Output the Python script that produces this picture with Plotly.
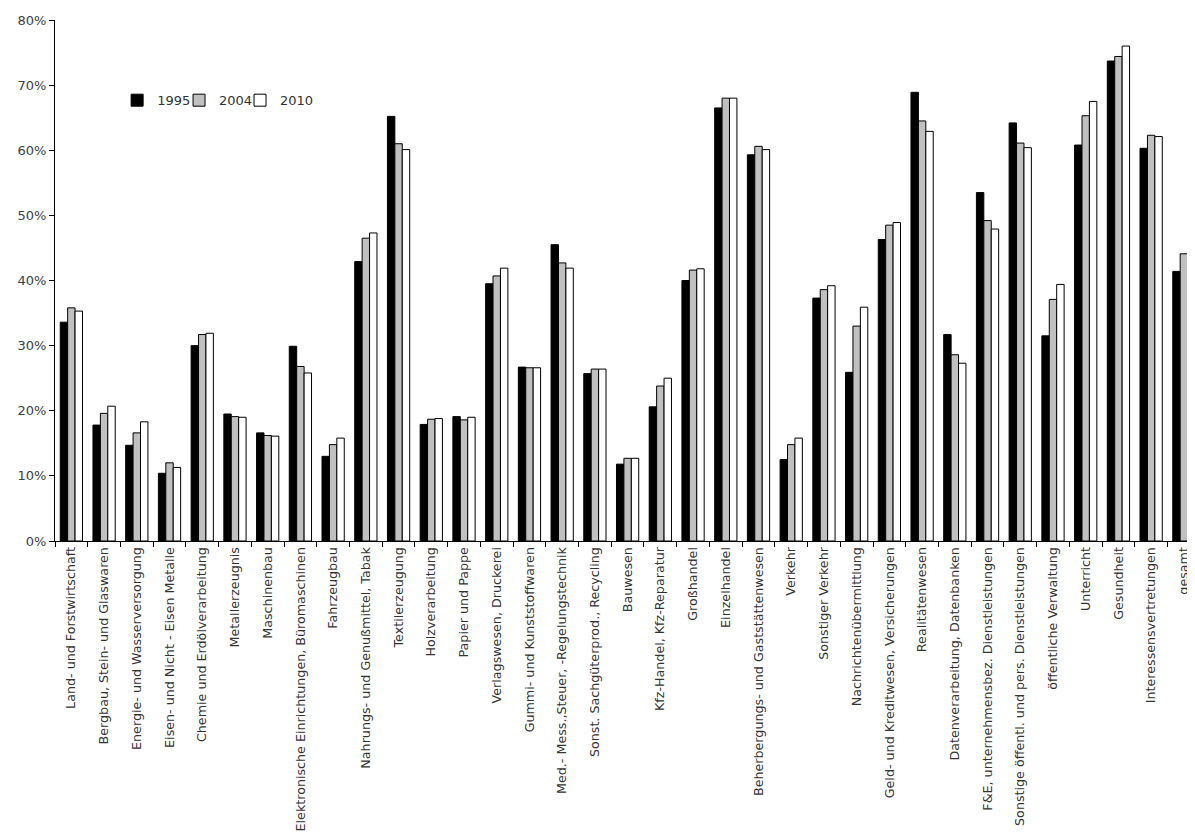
import plotly.graph_objects as go

categories = [
    "Land- und Forstwirtschaft", "Bergbau, Stein- und Glaswaren", "Energie- und Wasserversorgung",
    "Eisen- und Nicht - Eisen Metalle", "Chemie und Erdölverarbeitung", "Metallerzeugnis",
    "Maschinenbau", "Elektronische Einrichtungen, Büromaschinen", "Fahrzeugbau",
    "Nahrungs- und Genußmittel, Tabak", "Textilerzeugung", "Holzverarbeitung", "Papier und Pappe",
    "Verlagswesen, Druckerei", "Gummi- und Kunststoffwaren", "Med.- Mess.,Steuer, -Regelungstechnik",
    "Sonst. Sachgüterprod., Recycling", "Bauwesen", "Kfz-Handel, Kfz-Reparatur", "Großhandel",
    "Einzelhandel", "Beherbergungs- und Gaststättenwesen", "Verkehr", "Sonstiger Verkehr",
    "Nachrichtenübermittlung", "Geld- und Kreditwesen, Versicherungen", "Realitätenwesen",
    "Datenverarbeitung, Datenbanken", "F&E, unternehmensbez. Dienstleistungen",
    "Sonstige öffentl. und pers. Dienstleistungen", "öffentliche Verwaltung", "Unterricht",
    "Gesundheit", "Interessensvertretungen", "gesamt",
]

v1995 = [33.6, 17.8, 14.7, 10.4, 30.0, 19.5, 16.6, 29.9, 13.0, 42.9, 65.2, 17.9, 19.1, 39.5,
         26.7, 45.5, 25.7, 11.8, 20.6, 40.0, 66.5, 59.3, 12.5, 37.3, 25.9, 46.3, 68.9, 31.7,
         53.5, 64.2, 31.5, 60.8, 73.7, 60.3, 41.4]
v2004 = [35.8, 19.6, 16.6, 12.0, 31.7, 19.1, 16.2, 26.8, 14.8, 46.5, 61.0, 18.7, 18.6, 40.7,
         26.6, 42.7, 26.4, 12.7, 23.8, 41.6, 68.0, 60.6, 14.8, 38.6, 33.0, 48.5, 64.5, 28.6,
         49.2, 61.1, 37.1, 65.3, 74.4, 62.3, 44.1]
v2010 = [35.3, 20.7, 18.3, 11.3, 31.9, 19.0, 16.1, 25.8, 15.8, 47.3, 60.1, 18.8, 19.0, 41.9,
         26.6, 41.9, 26.4, 12.7, 25.0, 41.8, 68.0, 60.1, 15.8, 39.2, 35.9, 48.9, 62.9, 27.3,
         47.9, 60.4, 39.4, 67.5, 76.0, 62.1, 45.4]

series = [("1995", v1995, "#000000"), ("2004", v2004, "#C0C0C0"), ("2010", v2010, "#FFFFFF")]
legend_ids = ["legend", "legend2", "legend3"]
legend_x = [0.0545, 0.1088, 0.1623]

fig = go.Figure()
for (name, vals, col), lid in zip(series, legend_ids):
    fig.add_trace(go.Bar(
        x=categories, y=[v / 100 for v in vals], name=name, legend=lid,
        marker=dict(color=col, line=dict(color="#000000", width=1)),
    ))

font_family = "DejaVu Sans"
legend_common = dict(orientation="h", y=0.846, xanchor="left", yanchor="middle",
                     font=dict(size=13, color="#333333"), itemwidth=30,
                     bgcolor="rgba(0,0,0,0)")
fig.update_layout(
    width=1187, height=824,
    margin=dict(l=47, r=0, t=12, b=291, autoexpand=False),
    plot_bgcolor="white", paper_bgcolor="white",
    barmode="group", bargap=0.32, bargroupgap=0,
    font=dict(family=font_family, size=12, color="#333333"),
    legend=dict(x=legend_x[0], **legend_common),
    legend2=dict(x=legend_x[1], **legend_common),
    legend3=dict(x=legend_x[2], **legend_common),
    showlegend=True,
)
fig.update_xaxes(
    type="category", range=[-0.5, 34.34], automargin=False,
    showline=True, linecolor="black", linewidth=1,
    ticks="outside", tickson="boundaries", ticklen=5, tickcolor="black",
    tickangle=-90, tickfont=dict(size=12.7, family=font_family, color="#333333"),
    showgrid=False,
)
fig.update_yaxes(
    range=[0, 0.8], dtick=0.1, tickformat=".0%", automargin=False,
    showline=True, linecolor="black", linewidth=1,
    ticks="outside", ticklen=5, tickcolor="black",
    tickfont=dict(size=13, family=font_family, color="#404040"),
    showgrid=False, zeroline=False,
)

fig.write_html("out.html")
